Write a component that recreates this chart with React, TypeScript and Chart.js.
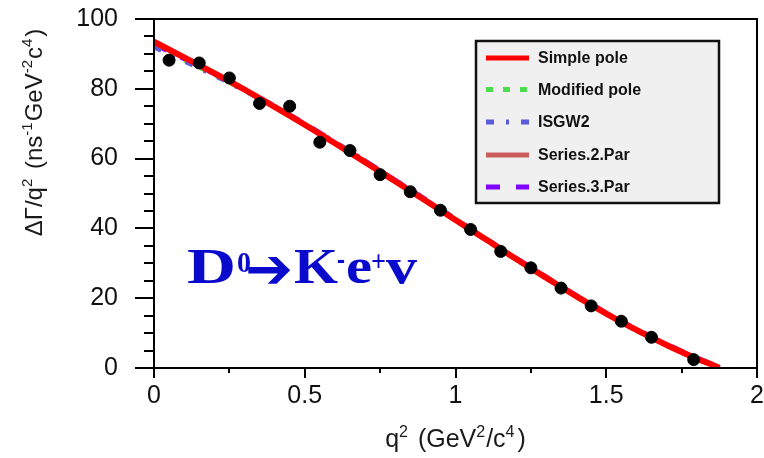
import React, { useEffect, useRef } from 'react';
import { Chart, registerables } from 'chart.js';
Chart.register(...registerables);

// Measured data points (q^2 bin centres, dGamma/dq^2)
const dataQ2 = [0.05, 0.15, 0.25, 0.35, 0.45, 0.55, 0.65, 0.75, 0.85, 0.95, 1.05, 1.15, 1.25, 1.35, 1.45, 1.55, 1.65, 1.79];
const dataRate = [88.2, 87.4, 83.1, 75.8, 75.0, 64.7, 62.3, 55.4, 50.5, 45.2, 39.7, 33.4, 28.7, 22.9, 17.8, 13.4, 8.8, 2.4];

// Fitted model curves
const curveQ2 = [0, 0.1, 0.2, 0.3, 0.4, 0.5, 0.6, 0.7, 0.8, 0.9, 1.0, 1.1, 1.2, 1.3, 1.4, 1.5, 1.6, 1.7, 1.8, 1.85, 1.875];
const simplePole = [93.5, 89.0, 84.5, 79.8, 74.8, 69.7, 64.4, 59.0, 53.5, 48.0, 42.4, 36.9, 31.3, 25.9, 20.6, 15.6, 10.9, 6.6, 2.7, 1.0, 0];
const modifiedPole = [92.3, 88.3, 84.1, 79.6, 74.8, 69.8, 64.5, 59.0, 53.5, 48.0, 42.4, 36.8, 31.2, 25.8, 20.5, 15.5, 10.8, 6.5, 2.6, 1.0, 0];
const isgw2 = [92.0, 88.0, 83.9, 79.5, 74.8, 69.9, 64.7, 59.3, 53.8, 48.2, 42.6, 37.0, 31.4, 25.9, 20.6, 15.6, 10.9, 6.6, 2.7, 1.0, 0];
const series2Par = [93.3, 88.9, 84.4, 79.7, 74.8, 69.7, 64.4, 59.0, 53.5, 48.0, 42.4, 36.9, 31.3, 25.9, 20.6, 15.6, 10.9, 6.6, 2.7, 1.0, 0];
const series3Par = [92.8, 88.6, 84.3, 79.8, 75.0, 70.0, 64.7, 59.3, 53.8, 48.3, 42.7, 37.1, 31.5, 26.1, 20.8, 15.8, 11.1, 6.8, 2.9, 1.1, 0];

const legendOrder = ['Simple pole', 'Modified pole', 'ISGW2', 'Series.2.Par', 'Series.3.Par'];

const SANS = '"Liberation Sans", Arial, sans-serif';
const SERIF = '"Liberation Serif", "Times New Roman", serif';

type Seg = { t: string; sup?: boolean; gap?: number };

function richWidth(ctx: CanvasRenderingContext2D, segs: Seg[], size: number) {
  let w = 0;
  for (const s of segs) {
    ctx.font = `${s.sup ? Math.round(size * 0.62) : size}px ${SANS}`;
    w += ctx.measureText(s.t).width + (s.gap || 0);
  }
  return w;
}

function drawRich(ctx: CanvasRenderingContext2D, segs: Seg[], size: number, x: number, y: number) {
  let cx = x;
  for (const s of segs) {
    ctx.font = `${s.sup ? Math.round(size * 0.62) : size}px ${SANS}`;
    ctx.fillText(s.t, cx, s.sup ? y - size * 0.42 : y);
    cx += ctx.measureText(s.t).width + (s.gap || 0);
  }
}

function drawPiece(ctx: CanvasRenderingContext2D, text: string, font: string, x: number, baseline: number, width: number) {
  ctx.font = font;
  const w = ctx.measureText(text).width;
  ctx.save();
  ctx.translate(x, baseline);
  ctx.scale(width / w, 1);
  ctx.fillText(text, 0, 0);
  ctx.restore();
}

const decorations = {
  id: 'decorations',
  afterDraw(chart: any) {
    const { ctx, chartArea: a, scales } = chart;
    const xs = scales.x;
    const ys = scales.y;
    ctx.save();
    ctx.strokeStyle = '#000';
    ctx.lineWidth = 2;
    ctx.lineCap = 'butt';
    // y tick marks (major every 20, minor every 5)
    for (let v = 0; v <= 100; v += 5) {
      const py = Math.round(ys.getPixelForValue(v));
      const len = v % 20 === 0 ? 19 : 10;
      ctx.beginPath();
      ctx.moveTo(a.left - len, py);
      ctx.lineTo(a.left, py);
      ctx.stroke();
    }
    // x tick marks (major every 0.5, minor every 0.25)
    for (let i = 0; i <= 8; i++) {
      const v = i * 0.25;
      const px = Math.round(xs.getPixelForValue(v));
      const len = i % 2 === 0 ? 10 : 5;
      ctx.beginPath();
      ctx.moveTo(px, a.bottom);
      ctx.lineTo(px, a.bottom + len);
      ctx.stroke();
    }
    // frame
    ctx.strokeRect(a.left, a.top, a.right - a.left, a.bottom - a.top);

    // legend
    const lx = 476, ly = 41, lw = 243, lh = 162;
    ctx.fillStyle = '#f0f0f0';
    ctx.fillRect(lx, ly, lw, lh);
    ctx.strokeStyle = '#111';
    ctx.lineWidth = 2.5;
    ctx.strokeRect(lx, ly, lw, lh);
    const rowY = [58, 89.5, 122, 155, 187];
    legendOrder.forEach((label, i) => {
      const ds = chart.data.datasets.find((d: any) => d.label === label);
      const y = rowY[i];
      ctx.strokeStyle = ds.borderColor;
      ctx.lineWidth = 5;
      ctx.setLineDash(ds.legendDash || []);
      ctx.beginPath();
      ctx.moveTo(486, y);
      ctx.lineTo(529, y);
      ctx.stroke();
      ctx.setLineDash([]);
      ctx.fillStyle = '#111';
      ctx.font = `bold 16px ${SANS}`;
      ctx.textBaseline = 'middle';
      ctx.textAlign = 'left';
      ctx.fillText(label, 538, y + 1);
    });

    // axis titles
    ctx.fillStyle = '#1a1a1a';
    ctx.textBaseline = 'alphabetic';
    const xTitle: Seg[] = [
      { t: 'q' }, { t: '2', sup: true, gap: 3 }, { t: ' (GeV' }, { t: '2', sup: true, gap: 1 },
      { t: '/c' }, { t: '4', sup: true, gap: 3 }, { t: ')' },
    ];
    const xw = richWidth(ctx, xTitle, 25);
    drawRich(ctx, xTitle, 25, (a.left + a.right) / 2 - xw / 2, 447);

    const yTitle: Seg[] = [
      { t: 'ΔΓ/q' }, { t: '2', sup: true, gap: 3 }, { t: ' (ns' }, { t: '-1', sup: true, gap: 1 },
      { t: 'GeV' }, { t: '-2', sup: true, gap: 1 }, { t: 'c' }, { t: '4', sup: true, gap: 2 }, { t: ')' },
    ];
    const yw = richWidth(ctx, yTitle, 24);
    ctx.save();
    ctx.translate(42, 132.5);
    ctx.rotate(-Math.PI / 2);
    drawRich(ctx, yTitle, 24, -yw / 2, 0);
    ctx.restore();

    // reaction annotation
    ctx.fillStyle = '#0a0acd';
    const big = `bold 50px ${SERIF}`;
    const small = `bold 30px ${SERIF}`;
    drawPiece(ctx, 'D', big, 187, 283, 49);
    drawPiece(ctx, '0', small, 237, 272, 14);
    drawPiece(ctx, '➔', `bold 56px "DejaVu Sans", sans-serif`, 245, 288, 48);
    drawPiece(ctx, 'K', big, 294, 283, 44);
    drawPiece(ctx, '-', `bold 36px ${SERIF}`, 337, 270, 8);
    drawPiece(ctx, 'e', big, 346, 283, 26);
    drawPiece(ctx, '+', small, 371, 271, 15);
    drawPiece(ctx, 'v', big, 386, 283, 31);
    ctx.restore();
  },
};

function pts(xs: number[], ys: number[]) {
  return xs.map((x, i) => ({ x, y: ys[i] }));
}

export default function App() {
  const ref = useRef<HTMLCanvasElement>(null);
  useEffect(() => {
    const curve = (label: string, values: number[], color: string, width: number, dash: number[], legendDash: number[]) => ({
      label,
      data: pts(curveQ2, values),
      showLine: true,
      borderColor: color,
      backgroundColor: color,
      borderWidth: width,
      borderDash: dash,
      legendDash,
      pointRadius: 0,
      cubicInterpolationMode: 'monotone',
      fill: false,
    });
    const chart = new Chart(ref.current!, {
      type: 'scatter',
      data: {
        datasets: [
          {
            label: 'Data',
            data: pts(dataQ2, dataRate),
            pointRadius: 6,
            pointBackgroundColor: '#000',
            pointBorderColor: '#000',
            showLine: false,
          } as any,
          curve('Simple pole', simplePole, '#ff0000', 6, [], []),
          curve('Series.2.Par', series2Par, '#cd5c5c', 5, [], []),
          curve('ISGW2', isgw2, '#5b5bdc', 5, [8, 12, 3, 12], [8, 12, 3, 12]),
          curve('Modified pole', modifiedPole, '#4cdc4c', 5, [7, 10], [7, 10]),
          curve('Series.3.Par', series3Par, '#7f00ff', 5, [14, 16], [14, 16]),
        ],
      },
      options: {
        animation: false,
        responsive: false,
        maintainAspectRatio: false,
        layout: { padding: { left: 0, top: 19, right: 5, bottom: 0 } },
        plugins: { legend: { display: false }, tooltip: { enabled: false } },
        scales: {
          x: {
            type: 'linear',
            min: 0,
            max: 2,
            grid: { display: false, drawTicks: false },
            border: { display: false },
            ticks: {
              stepSize: 0.5,
              padding: 13,
              color: '#111',
              font: { family: SANS, size: 25 },
              maxRotation: 0,
              autoSkip: false,
              callback: (v: any) => String(Number(v)),
            },
            afterFit: (s: any) => {
              s.height = 90;
              s.paddingLeft = 0;
              s.paddingRight = 0;
            },
          },
          y: {
            type: 'linear',
            min: 0,
            max: 100,
            grid: { display: false, drawTicks: false },
            border: { display: false },
            ticks: {
              stepSize: 20,
              padding: 36,
              color: '#111',
              font: { family: SANS, size: 25 },
            },
            afterFit: (s: any) => {
              s.width = 154;
              s.paddingTop = 0;
              s.paddingBottom = 0;
            },
          },
        },
      } as any,
      plugins: [decorations],
    });
    return () => chart.destroy();
  }, []);
  return (
    <div style={{ position: 'fixed', left: 0, top: 0, width: 764, height: 458, background: '#fff' }}>
      <canvas ref={ref} width={764} height={458} />
    </div>
  );
}
